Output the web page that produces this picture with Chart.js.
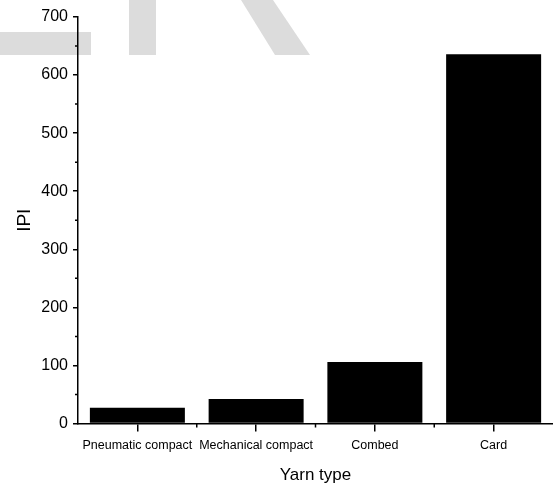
<!DOCTYPE html>
<html>
<head>
    <title>IPI by yarn type</title>
    <script src="https://cdn.jsdelivr.net/npm/chart.js@4.4.1/dist/chart.umd.min.js"></script>
    <style type="text/css">
        body { margin: 0; background: #fff; }
        #chart-container { width: 553px; height: 486px; }
    </style>
</head>
<body>
    <div id="chart-container">
        <canvas id="mycanvas" width="553" height="486"></canvas>
    </div>
    <script>
        // data
        var yarnTypes = ["Pneumatic compact", "Mechanical compact", "Combed", "Card"];
        var ipiValues = [27, 42, 106, 636];
        var yMin = 0, yMax = 700, yStep = 100;

        // light grey shapes behind the chart (watermark pieces)
        var watermark = {
            id: "watermark",
            beforeDraw: function (chart) {
                var c = chart.ctx;
                c.save();
                c.fillStyle = "#dcdcdc";
                c.fillRect(0, 32, 91, 23);
                c.fillRect(129, 0, 27, 55);
                c.beginPath();
                c.moveTo(241, 0);
                c.lineTo(273, 0);
                c.lineTo(310, 55);
                c.lineTo(275, 55);
                c.closePath();
                c.fill();
                c.restore();
            }
        };

        // short minor ticks between the major ones
        var minorTicks = {
            id: "minorTicks",
            afterDraw: function (chart) {
                var c = chart.ctx;
                var x = chart.scales.x, y = chart.scales.y;
                c.save();
                c.strokeStyle = "#000";
                c.lineWidth = 1.5;
                c.beginPath();
                for (var v = yMin + yStep / 2; v < yMax; v += yStep) {
                    var py = y.getPixelForValue(v);
                    c.moveTo(y.right - 3, py);
                    c.lineTo(y.right, py);
                }
                for (var i = 0; i < yarnTypes.length - 1; i++) {
                    var px = (x.getPixelForTick(i) + x.getPixelForTick(i + 1)) / 2;
                    c.moveTo(px, x.top);
                    c.lineTo(px, x.top + 4);
                }
                c.stroke();
                c.restore();
            }
        };

        var chartdata = {
            labels: yarnTypes,
            datasets: [
                {
                    label: "IPI",
                    backgroundColor: "#000",
                    borderColor: "#000",
                    borderWidth: 0,
                    barPercentage: 0.8,
                    categoryPercentage: 1,
                    data: ipiValues,
                },
            ],
        };

        var ctx = document.getElementById("mycanvas");
        var barGraph = new Chart(ctx, {
            type: "bar",
            data: chartdata,
            plugins: [watermark, minorTicks],
            options: {
                responsive: false,
                animation: false,
                devicePixelRatio: 1,
                layout: { padding: { top: 17, right: 0, bottom: 0, left: 0 } },
                plugins: {
                    legend: { display: false },
                    tooltip: { enabled: false },
                },
                scales: {
                    x: {
                        offset: true,
                        grid: {
                            offset: false,
                            drawOnChartArea: false,
                            tickLength: 8,
                            color: "#000",
                            lineWidth: 1.5,
                        },
                        border: { color: "#000", width: 1.5 },
                        ticks: {
                            color: "#000",
                            font: { family: "Liberation Sans", size: 12.5 },
                            autoSkip: false,
                            maxRotation: 0,
                            padding: 7,
                        },
                        title: {
                            display: true,
                            text: "Yarn type",
                            color: "#000",
                            font: { family: "Liberation Sans", size: 17 },
                            padding: { top: 4, bottom: 0 },
                        },
                        afterFit: function (scale) { scale.height = 62.5; },
                    },
                    y: {
                        min: yMin,
                        max: yMax,
                        grid: {
                            drawOnChartArea: false,
                            tickLength: 5,
                            color: "#000",
                            lineWidth: 1.5,
                        },
                        border: { color: "#000", width: 1.5 },
                        ticks: {
                            stepSize: yStep,
                            color: "#000",
                            font: { family: "Liberation Sans", size: 16 },
                            padding: 5,
                        },
                        title: {
                            display: true,
                            text: "IPI",
                            color: "#000",
                            font: { family: "Liberation Sans", size: 19 },
                            padding: { top: 13, bottom: 8 },
                        },
                        afterFit: function (scale) { scale.width = 78; },
                    },
                },
            },
        });
    </script>
</body>
</html>
